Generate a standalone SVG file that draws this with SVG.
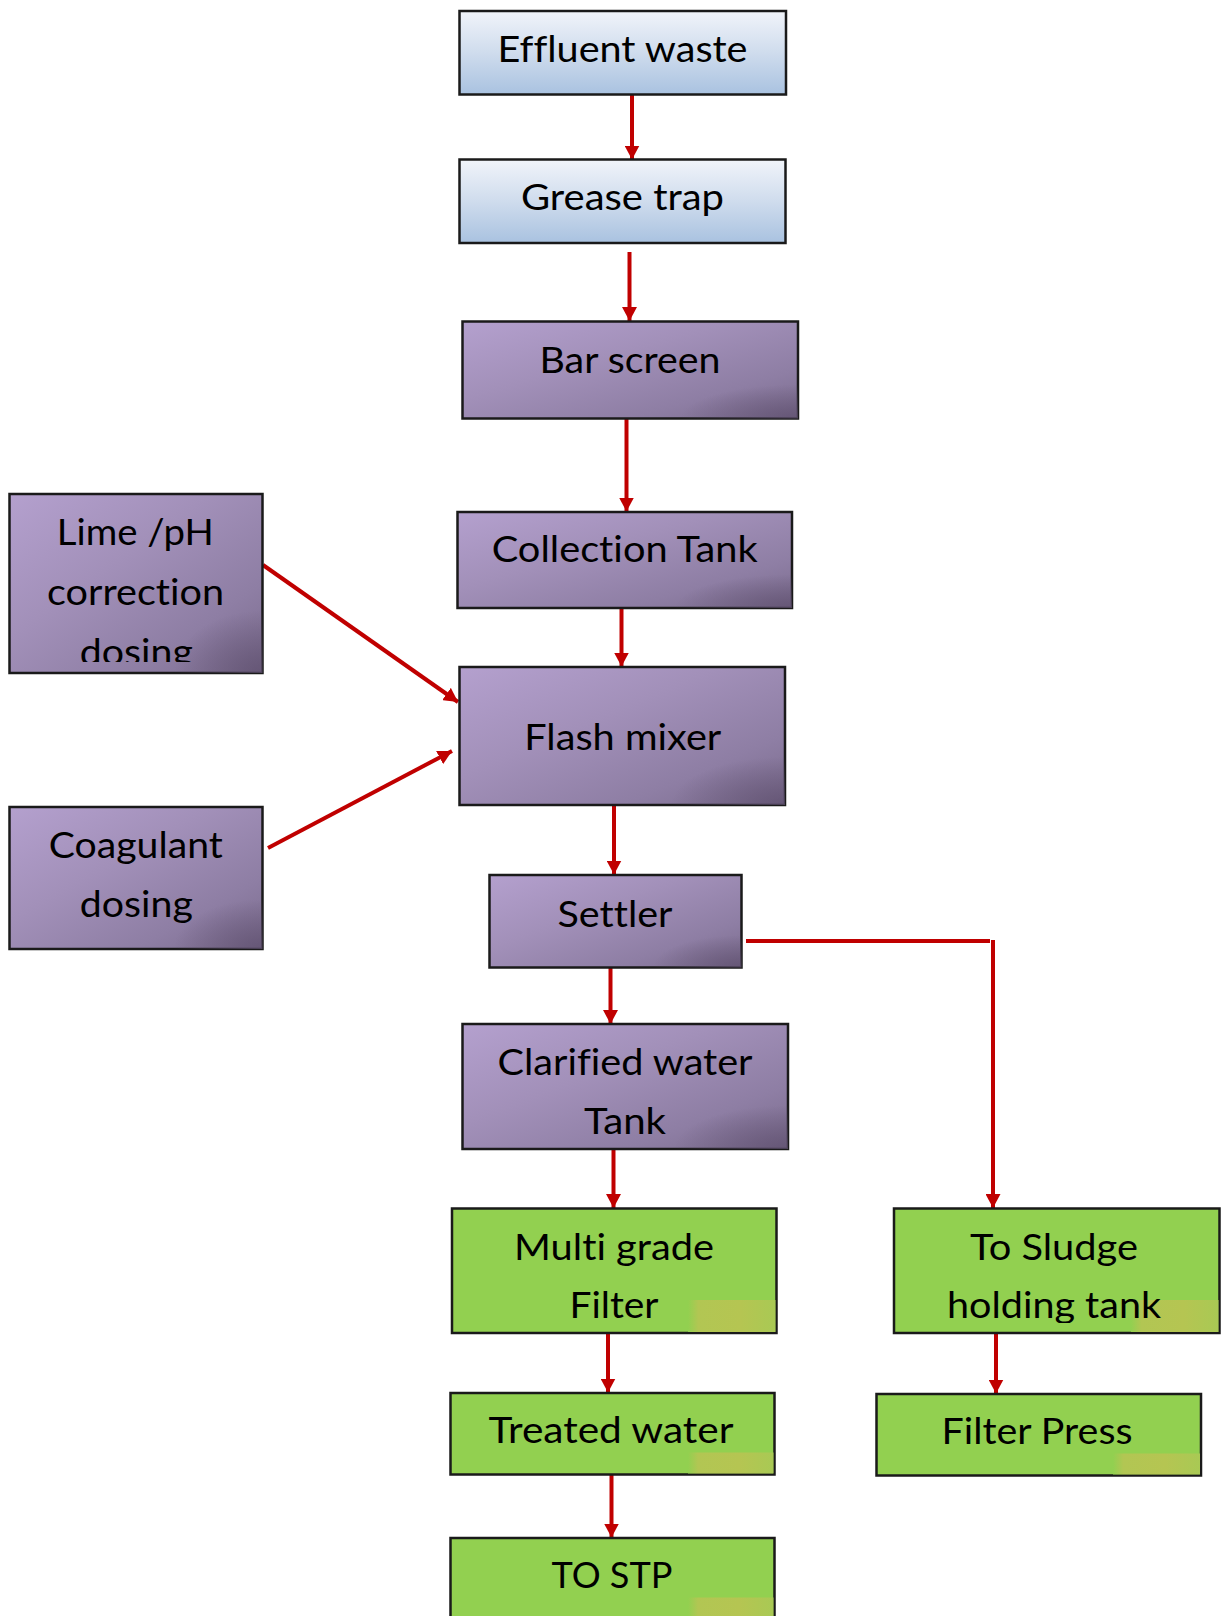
<svg xmlns="http://www.w3.org/2000/svg" width="1227" height="1616" viewBox="0 0 1227 1616">
<style>
.box{stroke:#1a1a1a;stroke-width:2.5}
.blue{fill:url(#gBlue)}
.purple{fill:url(#gPurple)}
.shade{fill:url(#gShade)}
.green{fill:#92D050}
.patch{fill:url(#gPatch)}
.t{font-family:Lato,"Open Sans","Liberation Sans",sans-serif;font-size:36px;fill:#000;text-anchor:middle;font-variant-ligatures:none;font-feature-settings:"liga" 0,"clig" 0,"dlig" 0}
.c{fill:none;stroke:#C00000;stroke-width:4}
</style>
<defs>
<linearGradient id="gBlue" x1="0" y1="0" x2="0" y2="1">
<stop offset="0" stop-color="#F1F4FA"/>
<stop offset="0.5" stop-color="#CFDCED"/>
<stop offset="1" stop-color="#A9C2E0"/>
</linearGradient>
<linearGradient id="gPurple" x1="0" y1="0" x2="1" y2="1">
<stop offset="0" stop-color="#B4A0CE"/>
<stop offset="0.4" stop-color="#A290B9"/>
<stop offset="0.75" stop-color="#8E7EA4"/>
<stop offset="1" stop-color="#7A6B8C"/>
</linearGradient>
<radialGradient id="gShade" cx="1" cy="1" r="0.35">
<stop offset="0" stop-color="#5E4F6E" stop-opacity="0.75"/>
<stop offset="1" stop-color="#5E4F6E" stop-opacity="0"/>
</radialGradient>
<linearGradient id="gPatch" x1="0" y1="0" x2="1" y2="0">
<stop offset="0" stop-color="#92D050"/>
<stop offset="0.12" stop-color="#B2C653"/>
<stop offset="0.6" stop-color="#B5C552"/>
<stop offset="1" stop-color="#A9C954"/>
</linearGradient>
<marker id="ah" markerUnits="userSpaceOnUse" markerWidth="14" markerHeight="15" refX="14" refY="7.5" orient="auto">
<path d="M0,0 L14,7.5 L0,15 z" fill="#C00000"/>
</marker>
<clipPath id="clipLime"><rect x="0" y="480" width="280" height="182"/></clipPath>
<clipPath id="clipSludge"><rect x="880" y="1200" width="347" height="123"/></clipPath>
</defs>

<g id="connectors">
<path class="c" marker-end="url(#ah)" d="M632,95 V159.5"/>
<path class="c" marker-end="url(#ah)" d="M629.5,252 V321"/>
<path class="c" marker-end="url(#ah)" d="M626.5,418.5 V511.5"/>
<path class="c" marker-end="url(#ah)" d="M621.5,608 V666.5"/>
<path class="c" marker-end="url(#ah)" d="M614,805 V874.5"/>
<path class="c" marker-end="url(#ah)" d="M610.5,968 V1024"/>
<path class="c" marker-end="url(#ah)" d="M613.5,1149 V1208"/>
<path class="c" marker-end="url(#ah)" d="M608,1333.5 V1392.5"/>
<path class="c" marker-end="url(#ah)" d="M611.5,1474.5 V1537.5"/>
<path class="c" marker-end="url(#ah)" d="M996,1333.5 V1393.5"/>
<path class="c" marker-end="url(#ah)" d="M263,565 L458,702"/>
<path class="c" marker-end="url(#ah)" d="M268,848 L452,751"/>
<path class="c" d="M746,941 H990"/>
<path class="c" marker-end="url(#ah)" d="M993,940 V1208"/>
</g>

<g id="effluent">
<rect class="box blue" x="459.5" y="11" width="326.5" height="83.5"/>
<text class="t" x="622.5" y="62" textLength="250" lengthAdjust="spacingAndGlyphs">Effluent waste</text>
</g>
<g id="grease">
<rect class="box blue" x="459.5" y="159.5" width="326" height="83.5"/>
<text class="t" x="622.5" y="210" textLength="203" lengthAdjust="spacingAndGlyphs">Grease trap</text>
</g>
<g id="bar">
<rect class="box purple" x="462.5" y="321.5" width="335.5" height="97"/>
<rect class="shade" x="462.5" y="321.5" width="335.5" height="97"/>
<text class="t" x="630" y="373" textLength="181" lengthAdjust="spacingAndGlyphs">Bar screen</text>
</g>
<g id="collection">
<rect class="box purple" x="457.5" y="512" width="334.5" height="96"/>
<rect class="shade" x="457.5" y="512" width="334.5" height="96"/>
<text class="t" x="624.7" y="562" textLength="266" lengthAdjust="spacingAndGlyphs">Collection Tank</text>
</g>
<g id="lime">
<rect class="box purple" x="9.5" y="494" width="253" height="179"/>
<rect class="shade" x="9.5" y="494" width="253" height="179"/>
<text class="t" x="135.3" y="545" textLength="157" lengthAdjust="spacingAndGlyphs">Lime /pH</text>
<text class="t" x="135.5" y="605" textLength="177" lengthAdjust="spacingAndGlyphs">correction</text>
<text class="t" x="136.3" y="665" textLength="113" lengthAdjust="spacingAndGlyphs" clip-path="url(#clipLime)">dosing</text>
</g>
<g id="flash">
<rect class="box purple" x="459.5" y="667" width="325.5" height="138"/>
<rect class="shade" x="459.5" y="667" width="325.5" height="138"/>
<text class="t" x="622.8" y="750" textLength="197" lengthAdjust="spacingAndGlyphs">Flash mixer</text>
</g>
<g id="coagulant">
<rect class="box purple" x="9.5" y="807" width="253" height="142"/>
<rect class="shade" x="9.5" y="807" width="253" height="142"/>
<text class="t" x="135.8" y="858" textLength="174" lengthAdjust="spacingAndGlyphs">Coagulant</text>
<text class="t" x="136.3" y="917" textLength="113" lengthAdjust="spacingAndGlyphs">dosing</text>
</g>
<g id="settler">
<rect class="box purple" x="489.5" y="875" width="252" height="92.5"/>
<rect class="shade" x="489.5" y="875" width="252" height="92.5"/>
<text class="t" x="615" y="927" textLength="115" lengthAdjust="spacingAndGlyphs">Settler</text>
</g>
<g id="clarified">
<rect class="box purple" x="462.5" y="1024" width="325.5" height="125"/>
<rect class="shade" x="462.5" y="1024" width="325.5" height="125"/>
<text class="t" x="625" y="1075" textLength="255" lengthAdjust="spacingAndGlyphs">Clarified water</text>
<text class="t" x="625" y="1134" textLength="82" lengthAdjust="spacingAndGlyphs">Tank</text>
</g>
<g id="multigrade">
<rect class="box green" x="452" y="1208.5" width="324.5" height="124.5"/>
<rect class="patch" x="688" y="1300" width="87.5" height="32"/>
<text class="t" x="614" y="1260" textLength="200" lengthAdjust="spacingAndGlyphs">Multi grade</text>
<text class="t" x="614" y="1318" textLength="89" lengthAdjust="spacingAndGlyphs">Filter</text>
</g>
<g id="sludge">
<rect class="box green" x="894" y="1208.5" width="325.5" height="124.5"/>
<rect class="patch" x="1131" y="1300" width="87.5" height="32"/>
<text class="t" x="1054" y="1260" textLength="168" lengthAdjust="spacingAndGlyphs">To Sludge</text>
<text class="t" x="1054" y="1318" textLength="214" lengthAdjust="spacingAndGlyphs" clip-path="url(#clipSludge)">holding tank</text>
</g>
<g id="treated">
<rect class="box green" x="450.5" y="1393" width="324" height="81.5"/>
<rect class="patch" x="688" y="1452.5" width="85.5" height="21"/>
<text class="t" x="611" y="1443" textLength="245" lengthAdjust="spacingAndGlyphs">Treated water</text>
</g>
<g id="filterpress">
<rect class="box green" x="876.5" y="1394" width="324.5" height="81.5"/>
<rect class="patch" x="1113" y="1453.5" width="87" height="21"/>
<text class="t" x="1037" y="1444" textLength="191" lengthAdjust="spacingAndGlyphs">Filter Press</text>
</g>
<g id="stp">
<rect class="box green" x="450.5" y="1538" width="324" height="100"/>
<rect class="patch" x="688" y="1597.5" width="85.5" height="20"/>
<text class="t" x="612" y="1588" textLength="121" lengthAdjust="spacingAndGlyphs">TO STP</text>
</g>
</svg>
